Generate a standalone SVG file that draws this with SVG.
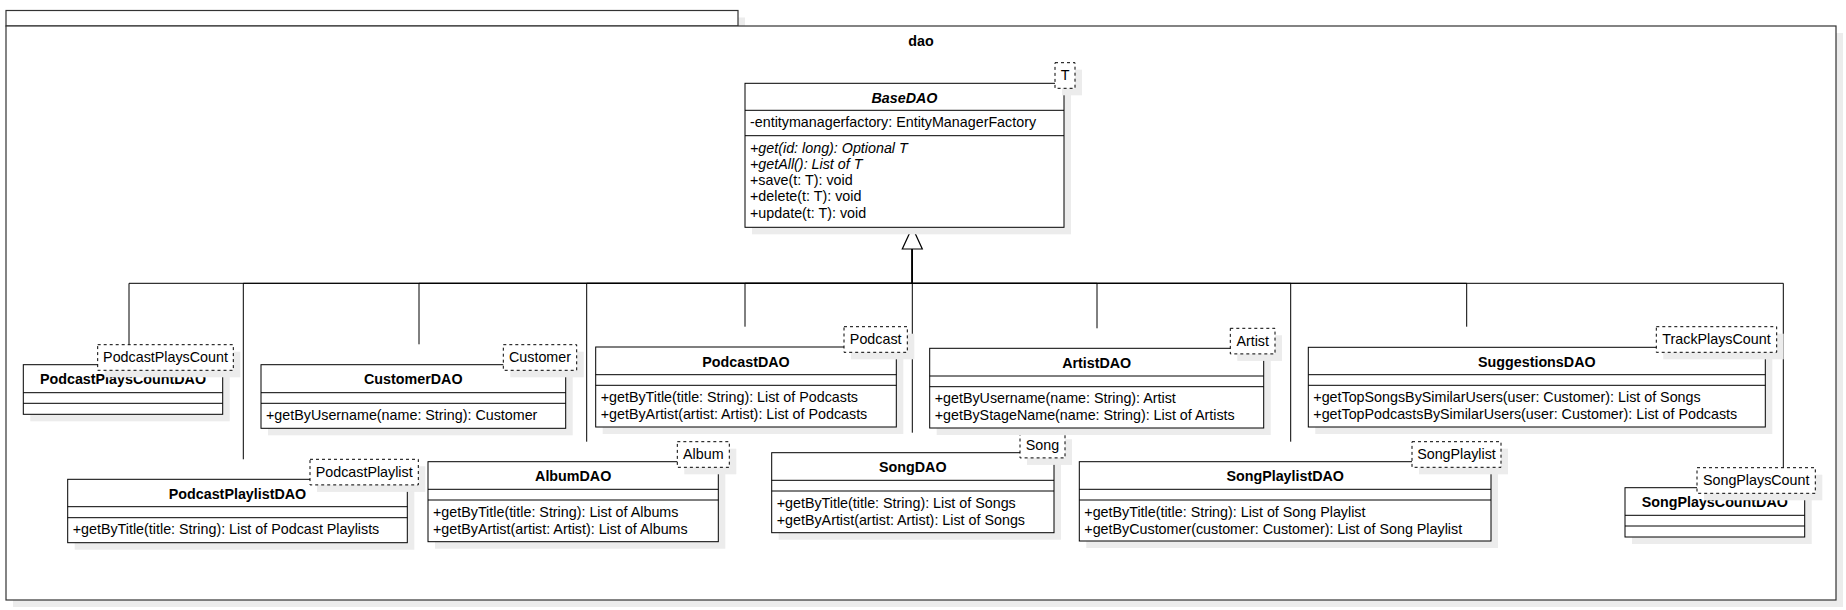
<svg xmlns="http://www.w3.org/2000/svg" width="1846" height="610" viewBox="0 0 1846 610">
<style>
text{font-family:"Liberation Sans",Arial,Helvetica,sans-serif;font-size:14.3px;fill:#000}
.t{font-weight:bold;text-anchor:middle}
.c{text-anchor:middle}
.box{fill:#fff;stroke:#000;stroke-width:1}
.ln{stroke:#000;stroke-width:1;fill:none}
.tp{fill:#fff;stroke:#000;stroke-width:1;stroke-dasharray:3 3}
.sh{fill:#ececec;stroke:none}
.pk{fill:#fff;stroke:#333;stroke-width:1.2}
</style>
<rect width="1846" height="610" fill="#fff"/>
<g id="pkg-dao">
<rect class="sh" x="13" y="17.5" width="732" height="15.5"/>
<rect class="sh" x="13" y="33" width="1830" height="574"/>
<rect class="pk" x="6" y="10.5" width="732" height="15.5"/>
<rect class="pk" x="6" y="26" width="1830" height="574"/>
<text class="t" x="921" y="46">dao</text>
</g>
<g id="connectors">
<path class="ln" d="M912.3 249V283.3H129V344.7"/>
<path class="ln" d="M912.3 249V283.3H243.3V459.3"/>
<path class="ln" d="M912.3 249V283.3H419V344.3"/>
<path class="ln" d="M912.3 249V283.3H586.7V441.7"/>
<path class="ln" d="M912.3 249V283.3H745V326.7"/>
<path class="ln" d="M912.3 249V432.7"/>
<path class="ln" d="M912.3 249V283.3H1097V328.3"/>
<path class="ln" d="M912.3 249V283.3H1290.7V441.7"/>
<path class="ln" d="M912.3 249V283.3H1466.7V326.7"/>
<path class="ln" d="M912.3 249V283.3H1783.3V467.7"/>
<path d="M912.3 227.3L902.3 249H922.3Z" fill="#fff" stroke="#000" stroke-width="1.2"/>
</g>
<g id="BaseDAO">
<rect class="sh" x="752" y="90.3" width="319" height="144"/>
<rect class="box" x="745" y="83.3" width="319" height="144"/>
<path class="ln" d="M745 110.3H1064M745 135.7H1064"/>
<text class="t" x="904.5" y="102.5" font-style="italic">BaseDAO</text>
<text x="750" y="127.3">-entitymanagerfactory: EntityManagerFactory</text>
<text x="750" y="152.7" font-style="italic">+get(id: long): Optional T</text>
<text x="750" y="168.9" font-style="italic">+getAll(): List of T</text>
<text x="750" y="185.1">+save(t: T): void</text>
<text x="750" y="201.3">+delete(t: T): void</text>
<text x="750" y="217.5">+update(t: T): void</text>
<rect class="sh" x="1062" y="69.7" width="20" height="25.6"/>
<rect class="tp" x="1055" y="62.7" width="20" height="25.6"/>
<text class="c" x="1065" y="80">T</text>
</g>
<g id="PodcastPlaysCountDAO">
<rect class="sh" x="30.3" y="371.7" width="199.4" height="49.6"/>
<rect class="box" x="23.3" y="364.7" width="199.4" height="49.6"/>
<path class="ln" d="M23.3 392.7H222.7M23.3 403.3H222.7"/>
<text class="t" x="123" y="384.2">PodcastPlaysCountDAO</text>
<rect class="sh" x="104.7" y="351.7" width="135.6" height="25.6"/>
<rect class="tp" x="97.7" y="344.7" width="135.6" height="25.6"/>
<text class="c" x="165.5" y="362">PodcastPlaysCount</text>
</g>
<g id="CustomerDAO">
<rect class="sh" x="268" y="371.7" width="304.7" height="63.6"/>
<rect class="box" x="261" y="364.7" width="304.7" height="63.6"/>
<path class="ln" d="M261 392.7H565.7M261 403.3H565.7"/>
<text class="t" x="413.3" y="384.2">CustomerDAO</text>
<text x="266" y="420">+getByUsername(name: String): Customer</text>
<rect class="sh" x="510.3" y="351.7" width="73.4" height="25.6"/>
<rect class="tp" x="503.3" y="344.7" width="73.4" height="25.6"/>
<text class="c" x="540" y="362">Customer</text>
</g>
<g id="PodcastPlaylistDAO">
<rect class="sh" x="74.7" y="486.3" width="339.6" height="63.4"/>
<rect class="box" x="67.7" y="479.3" width="339.6" height="63.4"/>
<path class="ln" d="M67.7 506.7H407.3M67.7 517.7H407.3"/>
<text class="t" x="237.5" y="498.8">PodcastPlaylistDAO</text>
<text x="72.7" y="534.4">+getByTitle(title: String): List of Podcast Playlists</text>
<rect class="sh" x="317" y="466.3" width="108.3" height="25.6"/>
<rect class="tp" x="310" y="459.3" width="108.3" height="25.6"/>
<text class="c" x="364.2" y="476.6">PodcastPlaylist</text>
</g>
<g id="AlbumDAO">
<rect class="sh" x="435" y="468.7" width="290.3" height="80"/>
<rect class="box" x="428" y="461.7" width="290.3" height="80"/>
<path class="ln" d="M428 489.3H718.3M428 500H718.3"/>
<text class="t" x="573.2" y="481.2">AlbumDAO</text>
<text x="433" y="516.7">+getByTitle(title: String): List of Albums</text>
<text x="433" y="533.7">+getByArtist(artist: Artist): List of Albums</text>
<rect class="sh" x="684.3" y="448.7" width="52" height="25.6"/>
<rect class="tp" x="677.3" y="441.7" width="52" height="25.6"/>
<text class="c" x="703.3" y="459">Album</text>
</g>
<g id="PodcastDAO">
<rect class="sh" x="602.7" y="354" width="300.6" height="80"/>
<rect class="box" x="595.7" y="347" width="300.6" height="80"/>
<path class="ln" d="M595.7 374.7H896.3M595.7 385.3H896.3"/>
<text class="t" x="746" y="366.5">PodcastDAO</text>
<text x="600.7" y="402">+getByTitle(title: String): List of Podcasts</text>
<text x="600.7" y="419">+getByArtist(artist: Artist): List of Podcasts</text>
<rect class="sh" x="851" y="333.7" width="63.3" height="25.6"/>
<rect class="tp" x="844" y="326.7" width="63.3" height="25.6"/>
<text class="c" x="875.7" y="344">Podcast</text>
</g>
<g id="SongDAO">
<rect class="sh" x="778.7" y="459.7" width="282.3" height="80"/>
<rect class="box" x="771.7" y="452.7" width="282.3" height="80"/>
<path class="ln" d="M771.7 480.3H1054M771.7 491H1054"/>
<text class="t" x="912.8" y="472.2">SongDAO</text>
<text x="776.7" y="507.7">+getByTitle(title: String): List of Songs</text>
<text x="776.7" y="524.7">+getByArtist(artist: Artist): List of Songs</text>
<rect class="sh" x="1027" y="439.3" width="45" height="25.6"/>
<rect class="tp" x="1020" y="432.3" width="45" height="25.6"/>
<text class="c" x="1042.5" y="449.6">Song</text>
</g>
<g id="ArtistDAO">
<rect class="sh" x="936.7" y="355.3" width="334" height="79.7"/>
<rect class="box" x="929.7" y="348.3" width="334" height="79.7"/>
<path class="ln" d="M929.7 376H1263.7M929.7 386.7H1263.7"/>
<text class="t" x="1096.7" y="367.8">ArtistDAO</text>
<text x="934.7" y="403.4">+getByUsername(name: String): Artist</text>
<text x="934.7" y="420.4">+getByStageName(name: String): List of Artists</text>
<rect class="sh" x="1237.3" y="335.3" width="44.7" height="25.6"/>
<rect class="tp" x="1230.3" y="328.3" width="44.7" height="25.6"/>
<text class="c" x="1252.7" y="345.6">Artist</text>
</g>
<g id="SuggestionsDAO">
<rect class="sh" x="1315.3" y="354.3" width="457" height="79.7"/>
<rect class="box" x="1308.3" y="347.3" width="457" height="79.7"/>
<path class="ln" d="M1308.3 374.7H1765.3M1308.3 385.3H1765.3"/>
<text class="t" x="1536.8" y="366.8">SuggestionsDAO</text>
<text x="1313.3" y="402">+getTopSongsBySimilarUsers(user: Customer): List of Songs</text>
<text x="1313.3" y="419">+getTopPodcastsBySimilarUsers(user: Customer): List of Podcasts</text>
<rect class="sh" x="1663.3" y="333.7" width="120.4" height="25.6"/>
<rect class="tp" x="1656.3" y="326.7" width="120.4" height="25.6"/>
<text class="c" x="1716.5" y="344">TrackPlaysCount</text>
</g>
<g id="SongPlaylistDAO">
<rect class="sh" x="1086.3" y="468.7" width="411.7" height="79.3"/>
<rect class="box" x="1079.3" y="461.7" width="411.7" height="79.3"/>
<path class="ln" d="M1079.3 489.3H1491M1079.3 500H1491"/>
<text class="t" x="1285.2" y="481.2">SongPlaylistDAO</text>
<text x="1084.3" y="516.7">+getByTitle(title: String): List of Song Playlist</text>
<text x="1084.3" y="533.7">+getByCustomer(customer: Customer): List of Song Playlist</text>
<rect class="sh" x="1419" y="448.7" width="89" height="25.6"/>
<rect class="tp" x="1412" y="441.7" width="89" height="25.6"/>
<text class="c" x="1456.5" y="459">SongPlaylist</text>
</g>
<g id="SongPlaysCountDAO">
<rect class="sh" x="1632" y="494.7" width="179.7" height="49.3"/>
<rect class="box" x="1625" y="487.7" width="179.7" height="49.3"/>
<path class="ln" d="M1625 515.3H1804.7M1625 526H1804.7"/>
<text class="t" x="1714.8" y="507.2">SongPlaysCountDAO</text>
<rect class="sh" x="1704" y="474.7" width="118.3" height="25.6"/>
<rect class="tp" x="1697" y="467.7" width="118.3" height="25.6"/>
<text class="c" x="1756.2" y="485">SongPlaysCount</text>
</g>
</svg>
